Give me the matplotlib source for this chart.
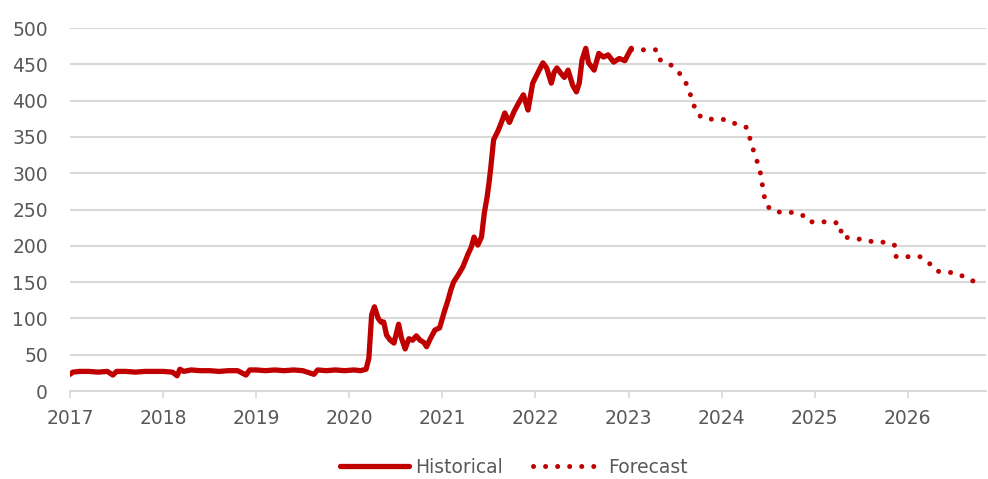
import matplotlib
matplotlib.use("Agg")
import matplotlib.pyplot as plt
from matplotlib.lines import Line2D

# Historical series (decimal years, values)
hist_t = [2017.00, 2017.03, 2017.10, 2017.20, 2017.30, 2017.40, 2017.46, 2017.50, 2017.60, 2017.70,
          2017.80, 2017.90, 2018.00, 2018.10, 2018.15, 2018.18, 2018.22, 2018.30, 2018.40, 2018.50,
          2018.60, 2018.70, 2018.80, 2018.89, 2018.93, 2019.00, 2019.10, 2019.20, 2019.30, 2019.40,
          2019.50, 2019.62, 2019.66, 2019.75, 2019.85, 2019.95, 2020.05, 2020.12, 2020.18, 2020.21,
          2020.24, 2020.27, 2020.31, 2020.34, 2020.37, 2020.40, 2020.44, 2020.48, 2020.53, 2020.56,
          2020.60, 2020.64, 2020.68, 2020.72, 2020.76, 2020.80, 2020.83, 2020.87, 2020.92, 2020.97,
          2021.02, 2021.06, 2021.09, 2021.12, 2021.17, 2021.22, 2021.28, 2021.31, 2021.34, 2021.38,
          2021.42, 2021.45, 2021.48, 2021.50, 2021.52, 2021.55, 2021.60, 2021.64, 2021.67, 2021.72,
          2021.77, 2021.82, 2021.87, 2021.92, 2021.97, 2022.04, 2022.08, 2022.12, 2022.17, 2022.20,
          2022.23, 2022.27, 2022.31, 2022.35, 2022.40, 2022.44, 2022.47, 2022.50, 2022.54, 2022.57,
          2022.63, 2022.68, 2022.73, 2022.78, 2022.84, 2022.90, 2022.96, 2023.00, 2023.03]
hist_v = [23, 26, 27, 27, 26, 27, 22, 27, 27, 26,
          27, 27, 27, 26, 21, 30, 27, 29, 28, 28,
          27, 28, 28, 22, 29, 29, 28, 29, 28, 29,
          28, 23, 29, 28, 29, 28, 29, 28, 30, 45,
          105, 116, 100, 95, 95, 77, 70, 66, 92, 73,
          58, 72, 70, 76, 70, 67, 61, 72, 84, 87,
          109, 125, 139, 150, 160, 171, 190, 198, 212, 201,
          212, 245, 267, 286, 308, 346, 359, 372, 383, 370,
          385, 397, 408, 387, 424, 442, 452, 445, 424, 439,
          445, 438, 432, 442, 421, 412, 424, 456, 472, 452,
          442, 465, 460, 463, 453, 458, 455, 465, 472]

# Forecast series
fc_t = [2023.03, 2023.29, 2023.32, 2023.43, 2023.53, 2023.60, 2023.64, 2023.69, 2023.72, 2023.79,
        2023.92, 2024.04, 2024.15, 2024.27, 2024.33, 2024.41, 2024.47, 2024.53, 2024.64, 2024.77,
        2024.87, 2024.93, 2025.19, 2025.28, 2025.285, 2025.40, 2025.53, 2025.65, 2025.78, 2025.87,
        2025.875, 2026.13, 2026.23, 2026.31, 2026.43, 2026.55, 2026.66, 2026.77]
fc_v = [470, 470, 457, 452, 440, 430, 416, 400, 385, 376,
        374, 374, 368, 363, 336, 305, 259, 249, 246, 246,
        242, 233, 233, 230, 212, 211, 208, 205, 205, 200,
        185, 185, 176, 165, 164, 161, 153, 149]

y_ticks = [0, 50, 100, 150, 200, 250, 300, 350, 400, 450, 500]
x_ticks = [2017, 2018, 2019, 2020, 2021, 2022, 2023, 2024, 2025, 2026]

RED = "#c00000"
GRID = "#d9d9d9"
TXT = "#595959"
DOTS = (0, (0.01, 2.4))

fig = plt.figure(figsize=(9.88, 4.79), dpi=100)
ax = fig.add_axes([0.0709, 0.1837, 0.9271, 0.7578])

ax.plot(hist_t, hist_v, color=RED, lw=3.8, solid_joinstyle="round", solid_capstyle="round", zorder=3)
ax.plot(fc_t, fc_v, color=RED, lw=3.6, linestyle=DOTS, dash_capstyle="round", zorder=3)

ax.set_xlim(2017, 2026.84)
ax.set_ylim(0, 500)
ax.set_yticks(y_ticks)
ax.set_yticklabels([str(v) for v in y_ticks])
ax.set_xticks(x_ticks)
ax.set_xticklabels([str(v) for v in x_ticks])

ax.yaxis.grid(True, color=GRID, lw=1.5)
ax.set_axisbelow(True)
for s in ["top", "right", "left"]:
    ax.spines[s].set_visible(False)
ax.spines["bottom"].set_color(GRID)
ax.spines["bottom"].set_linewidth(1.5)
ax.tick_params(axis="y", length=0, pad=16, labelsize=13.5, labelcolor=TXT)
ax.tick_params(axis="x", length=5, width=1.2, color=GRID, pad=8, labelsize=13.5, labelcolor=TXT)

handles = [Line2D([], [], color=RED, lw=3.8, solid_capstyle="round"),
           Line2D([], [], color=RED, lw=3.6, linestyle=DOTS, dash_capstyle="round")]
fig.legend(handles, ["Historical", "Forecast"], loc="center", bbox_to_anchor=(0.52, 0.025),
           ncol=2, frameon=False, fontsize=13.5, labelcolor=TXT, handlelength=3.7,
           handletextpad=0.3, columnspacing=1.6)

fig.savefig("out.png", dpi=100)
